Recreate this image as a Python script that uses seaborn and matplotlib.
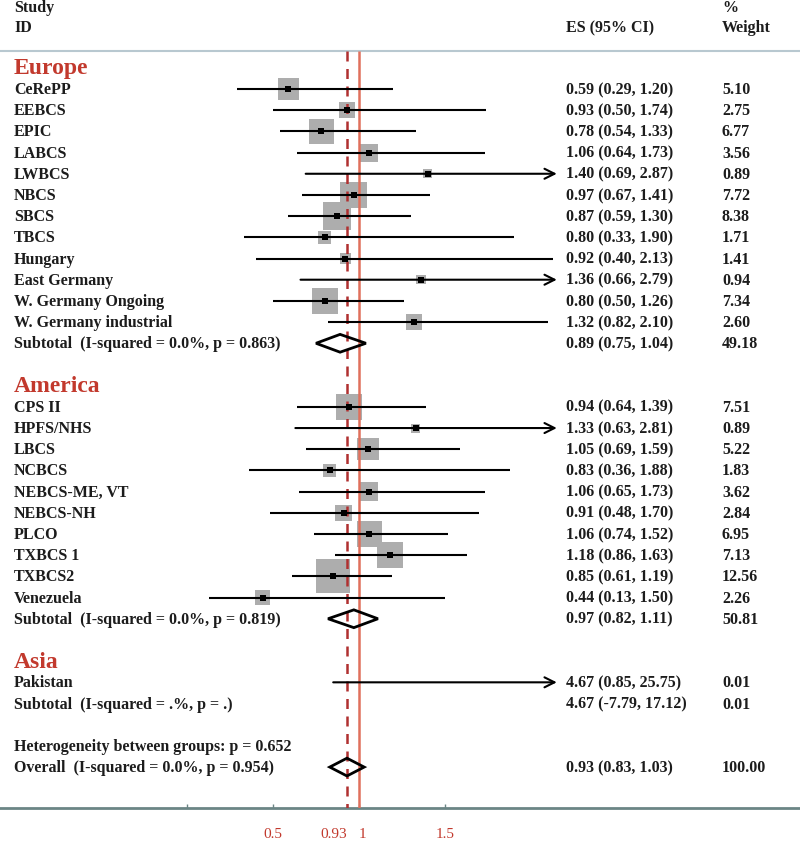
import pandas as pd
import seaborn as sns
import matplotlib.pyplot as plt
from matplotlib.patches import Polygon

# ---- data ----
eu_study = ["CeRePP", "EEBCS", "EPIC", "LABCS", "LWBCS", "NBCS", "SBCS", "TBCS",
            "Hungary", "East Germany", "W. Germany Ongoing", "W. Germany industrial"]
eu_es = [0.59, 0.93, 0.78, 1.06, 1.40, 0.97, 0.87, 0.80, 0.92, 1.36, 0.80, 1.32]
eu_lo = [0.29, 0.50, 0.54, 0.64, 0.69, 0.67, 0.59, 0.33, 0.40, 0.66, 0.50, 0.82]
eu_hi = [1.20, 1.74, 1.33, 1.73, 2.87, 1.41, 1.30, 1.90, 2.13, 2.79, 1.26, 2.10]
eu_wt = [5.10, 2.75, 6.77, 3.56, 0.89, 7.72, 8.38, 1.71, 1.41, 0.94, 7.34, 2.60]

am_study = ["CPS II", "HPFS/NHS", "LBCS", "NCBCS", "NEBCS-ME, VT", "NEBCS-NH",
            "PLCO", "TXBCS 1", "TXBCS2", "Venezuela"]
am_es = [0.94, 1.33, 1.05, 0.83, 1.06, 0.91, 1.06, 1.18, 0.85, 0.44]
am_lo = [0.64, 0.63, 0.69, 0.36, 0.65, 0.48, 0.74, 0.86, 0.61, 0.13]
am_hi = [1.39, 2.81, 1.59, 1.88, 1.73, 1.70, 1.52, 1.63, 1.19, 1.50]
am_wt = [7.51, 0.89, 5.22, 1.83, 3.62, 2.84, 6.95, 7.13, 12.56, 2.26]

as_study = ["Pakistan"]
as_es = [4.67]
as_lo = [0.85]
as_hi = [25.75]
as_wt = [0.01]

groups = ["Europe", "America", "Asia"]
sub_label = ["Subtotal  (I-squared = 0.0%, p = 0.863)",
             "Subtotal  (I-squared = 0.0%, p = 0.819)",
             "Subtotal  (I-squared = .%, p = .)"]
sub_es = [0.89, 0.97, 4.67]
sub_lo = [0.75, 0.82, -7.79]
sub_hi = [1.04, 1.11, 17.12]
sub_wt = [49.18, 50.81, 0.01]

het_label = "Heterogeneity between groups: p = 0.652"
overall_label = "Overall  (I-squared = 0.0%, p = 0.954)"
overall_es = 0.93
overall_lo = 0.83
overall_hi = 1.03
overall_wt = 100.00

xticks = [0, 0.5, 0.93, 1, 1.5]
xticklabels = ["", "0.5", "0.93", "1", "1.5"]

# ---- layout ----
sns.set_theme(style="white")
plt.rcParams["font.family"] = ["Liberation Serif", "DejaVu Serif"]

TXT = "#1c1c1c"
RED = "#c2392d"
FS = 11.5
FW = "bold"

group_data = [
    (eu_study, eu_es, eu_lo, eu_hi, eu_wt),
    (am_study, am_es, am_lo, am_hi, am_wt),
    (as_study, as_es, as_lo, as_hi, as_wt),
]

# build row table
recs = []
heads = []
subs = []
pos = 0
for gi, (names, es, lo, hi, wt) in enumerate(group_data):
    heads.append((groups[gi], pos))
    pos += 1
    for n, e, l, h, w in zip(names, es, lo, hi, wt):
        recs.append(dict(study=n, es=e, lo=l, hi=h, wt=w, row=pos))
        pos += 1
    subs.append((sub_label[gi], sub_es[gi], sub_lo[gi], sub_hi[gi], sub_wt[gi], pos))
    pos += 2
het_row = pos
overall_row = pos + 1
df = pd.DataFrame(recs)

fig = plt.figure(figsize=(8, 8.45), dpi=100)
ax = fig.add_axes([0, 36 / 845, 1, 809 / 845])

px_unit = 172.0
x_one = 359.0
xmin = 1 - x_one / px_unit
xmax = 1 + (800 - x_one) / px_unit
clip = 2.15
row_px = 21.19
ytop = 1 - 90 / row_px
ybot = 1 + (809 - 90) / row_px
ax.set_xlim(xmin, xmax)
ax.set_ylim(ybot, ytop)

line_top = 1 + (52 - 90) / row_px
ax.axhline(line_top, color="#b8c8d0", lw=1.5, zorder=1)

# weight squares
vis = df[df["es"] < clip]
sns.scatterplot(data=vis, x="es", y="row", size="wt", sizes=(0, 47.8 * 12.56),
                size_norm=(0, 12.56), marker="s", color="#adadad", linewidth=0,
                legend=False, ax=ax, zorder=2)

# reference lines
ax.vlines(1, line_top, ybot, color="#e0705c", lw=1.8, zorder=3)
ax.vlines(overall_es, line_top, ybot, color="#b03030", lw=1.8,
          linestyles=(0, (4, 3)), zorder=3)

# confidence intervals
for _, r in df.iterrows():
    if r["hi"] > clip:
        ax.annotate("", xy=(clip, r["row"]), xytext=(r["lo"], r["row"]),
                    arrowprops=dict(arrowstyle="->", lw=1.5, color="black",
                                    shrinkA=0, shrinkB=0, mutation_scale=18),
                    zorder=4)
    else:
        ax.hlines(r["row"], r["lo"], r["hi"], color="black", lw=1.5, zorder=4)

sns.scatterplot(data=vis, x="es", y="row", marker="s", s=16, color="black",
                linewidth=0, legend=False, ax=ax, zorder=5)

# diamonds
def diamond(e, l, h, y):
    if h > clip or l < xmin:
        return
    ax.add_patch(Polygon([(l, y), (e, y - 0.42), (h, y), (e, y + 0.42)],
                         closed=True, fill=False, ec="black", lw=2, zorder=4))

for lab, e, l, h, w, y in subs:
    diamond(e, l, h, y)
diamond(overall_es, overall_lo, overall_hi, overall_row)

# text columns
tr = ax.get_yaxis_transform()
xl, xe, xw = 14 / 800, 566 / 800, 722 / 800

def fmt(e, l, h):
    return f"{e:.2f} ({l:.2f}, {h:.2f})"

def put(x, y, s, **kw):
    opts = dict(transform=tr, fontsize=FS, color=TXT, va="center", fontweight=FW)
    opts.update(kw)
    ax.text(x, y, s, **opts)

put(xl, 1 + (8 - 90) / row_px, "Study")
put(xl, 1 + (28 - 90) / row_px, "ID")
put(xe, 1 + (28 - 90) / row_px, "ES (95% CI)")
put(xw, 1 + (8 - 90) / row_px, "%")
put(xw, 1 + (28 - 90) / row_px, "Weight")

for g, y in heads:
    put(xl, y, g, fontsize=17, color=RED, fontweight="semibold")

for _, r in df.iterrows():
    put(xl, r["row"], r["study"])
    put(xe, r["row"], fmt(r["es"], r["lo"], r["hi"]))
    put(xw, r["row"], f"{r['wt']:.2f}")

for lab, e, l, h, w, y in subs:
    put(xl, y, lab)
    put(xe, y, fmt(e, l, h))
    put(xw, y, f"{w:.2f}")

put(xl, het_row, het_label)
put(xl, overall_row, overall_label)
put(xe, overall_row, fmt(overall_es, overall_lo, overall_hi))
put(xw, overall_row, f"{overall_wt:.2f}")

# axis
for s in ["top", "left", "right"]:
    ax.spines[s].set_visible(False)
ax.spines["bottom"].set_color("#6b8585")
ax.spines["bottom"].set_linewidth(2)
ax.set_yticks([])
ax.set_xticks(xticks)
ax.set_xticklabels(xticklabels)
ax.tick_params(axis="x", direction="in", length=3, width=1, color="#6b8585",
               labelcolor=RED, labelsize=11, pad=14, bottom=True)
for t in ax.get_xticklabels():
    if t.get_text() == "0.93":
        t.set_horizontalalignment("right")
    if t.get_text() == "1":
        t.set_horizontalalignment("left")
ax.set_xlabel("")
ax.set_ylabel("")

fig.savefig("out.png", dpi=100)
